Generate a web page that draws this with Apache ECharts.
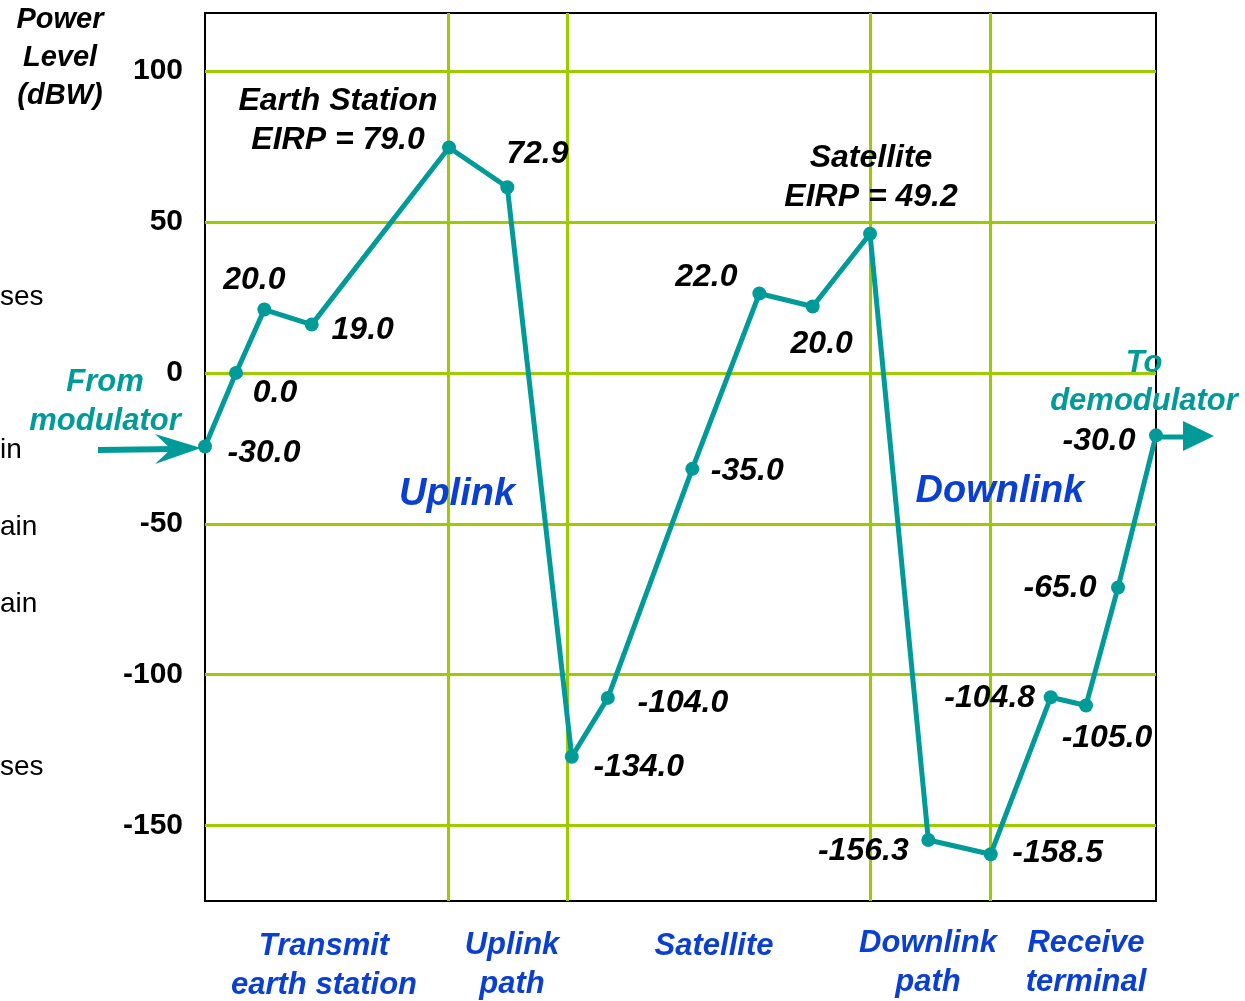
<!DOCTYPE html>
<html>
<head>
<meta charset="utf-8">
<script src="https://cdn.jsdelivr.net/npm/echarts@6/dist/echarts.min.js"></script>
<style>
  html, body { margin: 0; padding: 0; background: #fff; }
  #chart { width: 1245px; height: 1001px; }
</style>
</head>
<body>
<div id="chart"></div>
<script>
// ---- data ----
// position along the link, 0 = modulator output, 100 = demodulator input
const stageX = [0, 3.26, 6.24, 11.22, 25.66, 31.79, 38.57, 42.36, 51.24, 58.29, 63.90, 69.93, 76.06, 82.62, 88.93, 92.64, 96.01, 100];
// plotted power level (dBW) as drawn
const powerLevel = [-24.4, 0, 21.0, 16.0, 74.7, 61.5, -127.2, -107.7, -31.8, 26.3, 22.0, 46.1, -154.8, -159.5, -107.5, -110.2, -71.1, -20.7];
// annotated values
const pointLabels = ['-30.0', '0.0', '20.0', '19.0', 'Earth Station\nEIRP = 79.0', '72.9', '-134.0', '-104.0', '-35.0', '22.0', '20.0', 'Satellite\nEIRP = 49.2', '-156.3', '-158.5', '-104.8', '-105.0', '-65.0', '-30.0'];
// y-axis tick labels
const yTickValues = [100, 50, 0, -50, -100, -150];
// section boundaries and names
const sectionBounds = [25.6, 38.07, 69.98, 82.54];
const sectionNames = ['Transmit\nearth station', 'Uplink\npath', 'Satellite', 'Downlink\npath', 'Receive\nterminal'];
const linkNames = ['Uplink', 'Downlink'];
const leftFragments = ['ses', 'in', 'ain', 'ain', 'ses'];

// ---- layout / style ----
const TEAL = '#009b98';
const GRIDC = '#9ccc00';
const BLUE = '#0a3fd2';
const FF = "'Liberation Sans', Arial, sans-serif";
const labelOffsets = [[59, 7], [39, 20], [-10, -29], [51, 6], [-111, -27], [30, -33], [67, 10], [75, 5], [55, 2], [-53, -16], [9, 38], [1, -56], [-65, 11], [67, -1], [-61, 1], [21, 33], [-58, 1], [-57, 6]];

const chart = echarts.init(document.getElementById('chart'), null, { renderer: 'canvas' });

const seriesData = stageX.map((x, i) => ({
  value: [x, powerLevel[i]],
  label: {
    show: true,
    formatter: pointLabels[i],
    position: 'inside',
    offset: labelOffsets[i],
    align: 'center',
    verticalAlign: 'middle',
    lineHeight: pointLabels[i].indexOf('\n') >= 0 ? 39 : 34
  }
}));

function txt(text, x, y, size, color, opts) {
  opts = opts || {};
  return {
    type: 'text', x: x, y: y, z: 10, silent: true,
    style: {
      text: text, fill: color, fontSize: size, fontFamily: FF,
      fontWeight: opts.weight || 'bold', fontStyle: opts.style || 'italic',
      align: opts.align || 'center', verticalAlign: 'middle',
      lineHeight: opts.lh || Math.round(size * 1.35)
    }
  };
}

const sectionCenters = [324, 512, 714, 928, 1086];
const sectionTops = [946, 945, 946, 943, 943];
const fragY = [297, 450, 527, 604, 767];

const graphics = [];
graphics.push(txt('Power\nLevel\n(dBW)', 60, 58, 29, '#000', { lh: 38 }));
sectionNames.forEach((n, i) => {
  const lines = n.split('\n').length;
  graphics.push(txt(n, sectionCenters[i], sectionTops[i] + (lines - 1) * 19.5, 31, BLUE, { lh: 39 }));
});
graphics.push(txt(linkNames[0], 457, 495, 38, BLUE));
graphics.push(txt(linkNames[1], 1000, 492, 38, BLUE));
graphics.push(txt('From\nmodulator', 105, 402, 31, TEAL, { lh: 39 }));
graphics.push(txt('To\ndemodulator', 1144, 382, 31, TEAL, { lh: 38 }));
leftFragments.forEach((f, i) => {
  graphics.push(txt(f, 0, fragY[i], 28, '#000', { weight: 'normal', style: 'normal', align: 'left' }));
});
// arrows
graphics.push({ type: 'polyline', silent: true, z: 10, shape: { points: [[98, 450], [176, 449]] }, style: { stroke: TEAL, lineWidth: 6, fill: null } });
graphics.push({ type: 'polygon', silent: true, z: 10, shape: { points: [[201, 448], [155, 434], [171, 449], [155, 464]] }, style: { fill: TEAL } });
graphics.push({ type: 'polyline', silent: true, z: 10, shape: { points: [[1156, 437], [1186, 437]] }, style: { stroke: TEAL, lineWidth: 5, fill: null } });
graphics.push({ type: 'polygon', silent: true, z: 10, shape: { points: [[1214, 436], [1183, 421], [1183, 451]] }, style: { fill: TEAL } });

const option = {
  backgroundColor: '#ffffff',
  animation: false,
  grid: {
    left: 205, right: 89, top: 13, bottom: 100,
    show: true, borderColor: '#000', borderWidth: 2, backgroundColor: 'transparent'
  },
  xAxis: {
    type: 'value', min: 0, max: 100, show: false
  },
  yAxis: {
    type: 'value', min: -175, max: 119.26, interval: 25,
    axisLine: { show: false }, axisTick: { show: false }, splitLine: { show: false },
    axisLabel: {
      margin: 22, color: '#000', fontSize: 30, fontWeight: 'bold', fontFamily: FF,
      formatter: v => (yTickValues.indexOf(Math.round(v * 1000) / 1000) >= 0 ? String(Math.round(v)) : '')
    }
  },
  series: [{
    type: 'line',
    data: seriesData,
    clip: false,
    z: 3,
    symbol: 'circle',
    symbolSize: 14,
    itemStyle: { color: TEAL },
    lineStyle: { color: TEAL, width: 5 },
    label: {
      color: '#000', fontSize: 32, fontWeight: 'bold', fontStyle: 'italic', fontFamily: FF
    },
    markLine: {
      silent: true, z: 1, symbol: ['none', 'none'], animation: false,
      label: { show: false },
      lineStyle: { color: GRIDC, width: 3, type: 'solid' },
      emphasis: { disabled: true },
      data: yTickValues.map(v => ({ yAxis: v })).concat(sectionBounds.map(v => ({ xAxis: v })))
    }
  }],
  graphic: graphics
};
chart.setOption(option);
</script>
</body>
</html>
